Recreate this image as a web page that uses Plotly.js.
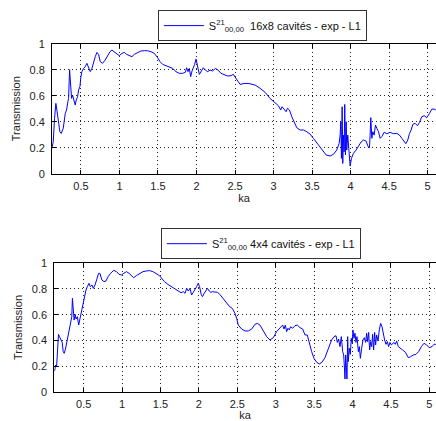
<!DOCTYPE html>
<html>
<head>
<meta charset="utf-8">
<script src="https://cdn.plot.ly/plotly-3.0.1.min.js"></script>
<style>html,body{margin:0;padding:0;background:#fff;}#chart{width:436px;height:421px;}</style>
</head>
<body>
<div id="chart"></div>
<script>
// ---- Data ----
var kaTop = [0.123,0.141,0.158,0.175,0.188,0.206,0.227,0.245,0.271,0.297,0.314,0.331,0.340,0.353,0.366,0.379,0.392,0.409,0.426,0.439,0.457,0.470,0.487,0.500,0.513,0.535,0.556,0.578,0.600,0.621,0.643,0.665,0.686,0.708,0.729,0.751,0.781,0.816,0.846,0.877,0.903,0.933,0.963,0.998,1.032,1.063,1.093,1.128,1.162,1.193,1.236,1.279,1.323,1.366,1.409,1.452,1.496,1.526,1.561,1.604,1.647,1.690,1.734,1.777,1.820,1.855,1.872,1.890,1.907,1.924,1.942,1.959,1.976,1.994,2.011,2.037,2.063,2.089,2.115,2.145,2.175,2.210,2.245,2.279,2.318,2.361,2.405,2.448,2.478,
2.565,2.630,2.695,2.760,2.825,2.890,2.955,3.019,3.063,3.093,3.110,3.136,3.162,3.180,3.206,3.236,3.266,3.301,3.344,3.387,3.431,3.474,3.517,3.569,3.626,3.682,3.734,3.777,3.820,3.851,3.864,3.872,3.881,3.890,3.898,3.907,3.916,3.924,3.933,3.942,3.950,3.963,3.976,3.994,4.011,4.037,4.071,4.102,4.136,4.167,4.201,4.227,4.245,4.253,4.262,4.275,4.288,4.305,4.323,4.340,4.362,4.383,4.405,4.435,4.470,4.513,4.556,4.600,4.634,4.665,4.695,4.716,4.742,4.764,4.786,4.807,4.838,4.868,4.894,4.924,4.955,4.989,5.024,5.054,5.082,5.105];
var transTop = [0.195,0.246,0.426,0.541,0.490,0.410,0.323,0.310,0.350,0.464,0.490,0.554,0.579,0.800,0.657,0.579,0.605,0.567,0.528,0.567,0.592,0.644,0.669,0.746,0.785,0.810,0.823,0.849,0.810,0.785,0.810,0.862,0.900,0.933,0.918,0.862,0.849,0.875,0.908,0.938,0.951,0.938,0.918,0.908,0.926,0.933,0.918,0.908,0.900,0.918,0.933,0.944,0.946,0.946,0.938,0.926,0.892,0.862,0.841,0.831,0.823,0.810,0.785,0.772,0.772,0.780,0.815,0.785,0.810,0.746,0.790,0.810,0.841,0.882,0.823,0.764,0.790,0.815,0.797,0.785,0.797,0.790,0.810,0.797,0.772,0.759,0.751,0.754,0.764,
0.687,0.695,0.692,0.682,0.657,0.626,0.579,0.541,0.523,0.490,0.515,0.497,0.477,0.503,0.490,0.439,0.400,0.354,0.336,0.336,0.323,0.305,0.272,0.233,0.190,0.144,0.136,0.149,0.182,0.233,0.297,0.400,0.118,0.515,0.079,0.297,0.169,0.533,0.144,0.400,0.182,0.297,0.195,0.059,0.118,0.157,0.182,0.208,0.244,0.259,0.251,0.208,0.200,0.297,0.431,0.272,0.323,0.297,0.374,0.349,0.323,0.272,0.285,0.318,0.308,0.318,0.308,0.310,0.297,0.272,0.244,0.231,0.259,0.310,0.336,0.380,0.387,0.369,0.395,0.439,0.446,0.431,0.464,0.497,0.497,0.490];

var kaBottom = [0.121,0.134,0.147,0.159,0.172,0.185,0.203,0.220,0.233,0.246,0.263,0.280,0.297,0.315,0.332,0.345,0.353,0.362,0.375,0.388,0.401,0.418,0.435,0.448,0.461,0.478,0.496,0.513,0.530,0.547,0.569,0.586,0.608,0.625,0.647,0.668,0.694,0.711,0.737,0.763,0.789,0.819,0.849,0.892,0.927,0.961,0.991,1.022,1.056,1.091,1.121,1.151,1.185,1.228,1.272,1.315,1.358,1.401,1.444,1.487,1.522,1.552,1.595,1.638,1.681,1.724,1.767,1.797,1.819,1.841,1.862,1.884,1.905,1.927,1.948,1.970,1.991,2.009,2.030,2.047,2.069,2.091,2.112,2.134,2.155,2.177,2.211,2.241,2.272,2.306,2.341,2.371,2.401,2.435,
2.470,2.491,2.513,2.556,2.600,2.643,2.687,2.730,2.760,2.795,2.839,2.882,2.925,2.969,3.012,3.056,3.090,3.108,3.125,3.142,3.160,3.177,3.194,3.220,3.251,3.281,3.316,3.351,3.381,3.411,3.438,3.468,3.498,3.533,3.568,3.602,3.641,3.672,3.698,3.728,3.759,3.785,3.802,3.819,3.837,3.854,3.872,3.885,3.893,3.902,3.911,3.919,3.928,3.937,3.945,3.958,3.971,3.984,3.997,4.006,4.019,4.032,4.045,4.058,4.076,4.089,4.102,4.119,4.136,4.154,4.171,4.184,4.197,4.210,4.223,4.236,4.249,4.262,4.275,4.288,4.301,4.314,4.332,4.349,4.366,4.384,4.401,4.418,4.436,4.453,4.470,4.488,4.505,4.523,4.540,4.557,4.575,4.596,4.618,4.653,4.688,4.727,4.757,4.792,4.826,4.861,4.896,4.931,4.965,5.000,5.035,5.061,5.085];
var transBottom = [0.161,0.208,0.195,0.351,0.447,0.429,0.403,0.384,0.312,0.299,0.332,0.384,0.442,0.481,0.532,0.584,0.727,0.623,0.558,0.603,0.566,0.584,0.519,0.558,0.597,0.636,0.688,0.740,0.792,0.818,0.844,0.818,0.831,0.805,0.831,0.870,0.922,0.922,0.870,0.857,0.862,0.896,0.922,0.945,0.935,0.914,0.909,0.922,0.935,0.922,0.904,0.888,0.904,0.922,0.935,0.940,0.943,0.935,0.922,0.904,0.878,0.857,0.836,0.818,0.805,0.784,0.771,0.779,0.766,0.805,0.784,0.805,0.753,0.774,0.792,0.818,0.844,0.818,0.758,0.740,0.766,0.792,0.805,0.784,0.774,0.779,0.774,0.774,0.758,0.732,0.706,0.681,0.662,0.649,
0.610,0.571,0.519,0.488,0.473,0.473,0.488,0.525,0.532,0.519,0.468,0.429,0.403,0.421,0.468,0.499,0.519,0.488,0.519,0.468,0.494,0.481,0.506,0.494,0.514,0.519,0.499,0.488,0.442,0.442,0.377,0.312,0.260,0.229,0.216,0.229,0.265,0.312,0.364,0.403,0.429,0.436,0.384,0.410,0.351,0.429,0.312,0.286,0.208,0.099,0.286,0.156,0.099,0.429,0.234,0.338,0.291,0.416,0.377,0.481,0.416,0.455,0.384,0.429,0.312,0.351,0.260,0.338,0.403,0.421,0.384,0.455,0.390,0.462,0.325,0.390,0.351,0.447,0.325,0.462,0.364,0.442,0.395,0.481,0.532,0.506,0.436,0.403,0.369,0.390,0.351,0.384,0.364,0.377,0.384,0.369,0.395,0.351,0.338,0.325,0.307,0.265,0.273,0.286,0.291,0.312,0.351,0.377,0.364,0.343,0.351,0.369,0.369];

var xTickVals = [0.5,1,1.5,2,2.5,3,3.5,4,4.5,5];
var xTickText = ['0.5','1','1.5','2','2.5','3','3.5','4','4.5','5'];
var yTickVals = [0,0.2,0.4,0.6,0.8,1];
var yTickText = ['0','0.2','0.4','0.6','0.8','1'];
var nameTop = 'S<sup>21</sup><sub>00,00</sub>  16x8 cavités - exp - L1';
var nameBottom = 'S<sup>21</sup><sub>00,00</sub> 4x4 cavités - exp - L1';

var FONT = 'Liberation Sans, Arial, Helvetica, sans-serif';

var traces = [
  {x: kaTop, y: transTop, type: 'scatter', mode: 'lines', name: nameTop,
   line: {color: 'rgb(0,0,255)', width: 1}, xaxis: 'x', yaxis: 'y', legend: 'legend'},
  {x: kaBottom, y: transBottom, type: 'scatter', mode: 'lines', name: nameBottom,
   line: {color: 'rgb(0,0,255)', width: 1}, xaxis: 'x2', yaxis: 'y2', legend: 'legend2'}
];

function xAxis(domain, range, anchor) {
  return {
    domain: domain, range: range, anchor: anchor,
    tickmode: 'array', tickvals: xTickVals, ticktext: xTickText,
    ticks: 'inside', ticklen: 4, tickcolor: '#000',
    showline: true, linecolor: '#000', linewidth: 1, mirror: 'ticks',
    showgrid: true, gridcolor: '#222', gridwidth: 1, griddash: '1px,3px',
    zeroline: false,
    tickfont: {family: FONT, size: 11, color: '#222'},
    ticklabelstandoff: 2,
    title: {text: 'ka', font: {family: FONT, size: 11, color: '#222'}, standoff: 3}
  };
}
function yAxis(domain, anchor) {
  return {
    domain: domain, range: [0, 1], anchor: anchor,
    tickmode: 'array', tickvals: yTickVals, ticktext: yTickText,
    ticks: 'inside', ticklen: 4, tickcolor: '#000',
    showline: true, linecolor: '#000', linewidth: 1, mirror: false,
    showgrid: true, gridcolor: '#222', gridwidth: 1, griddash: '1px,3px',
    zeroline: false,
    tickfont: {family: FONT, size: 11, color: '#222'},
    ticklabelstandoff: 4,
    title: {text: 'Transmission', font: {family: FONT, size: 11, color: '#222'}, standoff: 6}
  };
}

var legendStyle = function (x, y) {
  return {x: x, y: y, xanchor: 'left', yanchor: 'top', xref: 'paper', yref: 'paper',
    bgcolor: '#fff', bordercolor: '#333', borderwidth: 1,
    font: {family: FONT, size: 11, color: '#111'}, itemwidth: 40, tracegroupgap: 0};
};

var layout = {
  width: 436, height: 421,
  margin: {l: 0, r: 0, t: 0, b: 0, autoexpand: false},
  paper_bgcolor: '#fff', plot_bgcolor: '#fff',
  showlegend: true,
  xaxis: xAxis([0.1193, 1], [0.125, 5.108], 'y'),
  yaxis: yAxis([0.5874, 0.8962], 'x'),
  xaxis2: xAxis([0.1245, 1], [0.117, 5.087], 'y2'),
  yaxis2: yAxis([0.0696, 0.3746], 'x2'),
  legend: legendStyle(0.362, 0.976),
  legend2: legendStyle(0.369, 0.458)
};

Plotly.newPlot('chart', traces, layout, {staticPlot: true, displayModeBar: false});
</script>
</body>
</html>
